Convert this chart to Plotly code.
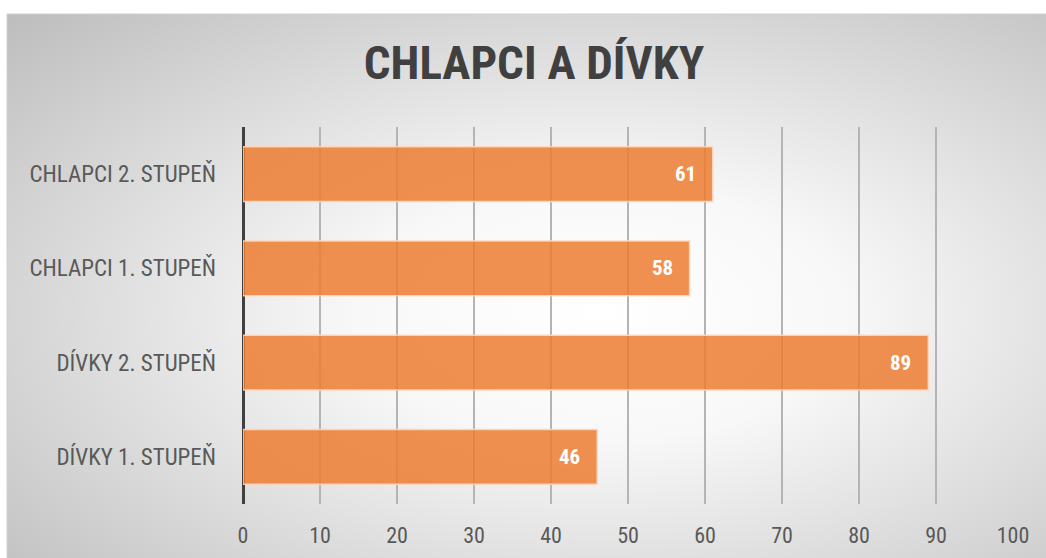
import plotly.graph_objects as go
import base64

categories = ["DÍVKY 1. STUPEŇ", "DÍVKY 2. STUPEŇ", "CHLAPCI 1. STUPEŇ", "CHLAPCI 2. STUPEŇ"]
values = [46, 89, 58, 61]
tick_vals = [0, 10, 20, 30, 40, 50, 60, 70, 80, 90, 100]
title_text = "CHLAPCI A DÍVKY"

W, H = 1046, 558
L, R, T, B = 243, 33, 127, 54
pw, ph = W - L - R, H - T - B

font_narrow = "Liberation Sans Narrow, Roboto Condensed, Arial Narrow, sans-serif"

svg = f'''<svg xmlns="http://www.w3.org/2000/svg" width="1039" height="544" viewBox="0 0 1039 544" preserveAspectRatio="none">
<defs><radialGradient id="g" cx="0.57" cy="0.55" r="0.78" gradientUnits="objectBoundingBox">
<stop offset="0" stop-color="#ffffff"/><stop offset="0.3" stop-color="#f8f8f8"/><stop offset="1" stop-color="#bebebe"/></radialGradient></defs>
<rect x="0" y="0" width="1039" height="544" fill="url(#g)"/></svg>'''
src = "data:image/svg+xml;base64," + base64.b64encode(svg.encode()).decode()

fig = go.Figure()
fig.add_trace(go.Bar(
    y=categories, x=values, orientation="h",
    marker=dict(color="rgba(237,125,49,0.85)", line=dict(color="rgba(252,215,190,0.9)", width=1.5)),
    width=0.58,
    hoverinfo="skip",
))

for c, v in zip(categories, values):
    fig.add_annotation(x=v, y=c, xref="x", yref="y", text=f"<b>{v}</b>", showarrow=False,
                       xanchor="right", xshift=-15,
                       font=dict(color="white", size=21, family=font_narrow))

x0p = (7 - L) / pw
x1p = (W - L) / pw
y1p = (H - B - 14) / ph
y0p = -B / ph

fig.add_layout_image(dict(source=src, xref="paper", yref="paper", x=x0p, y=y1p,
                          sizex=x1p - x0p, sizey=y1p - y0p, sizing="stretch",
                          xanchor="left", yanchor="top", layer="below"))
fig.add_shape(type="rect", xref="paper", yref="paper", x0=x0p, x1=x1p + 0.01, y0=y0p - 0.01, y1=y1p,
              line=dict(color="#d0d0d0", width=1), fillcolor="rgba(0,0,0,0)", layer="below")

fig.update_layout(
    width=W, height=H,
    margin=dict(l=L, r=R, t=T, b=B, autoexpand=False),
    paper_bgcolor="white", plot_bgcolor="rgba(0,0,0,0)",
    showlegend=False,
    title=dict(text=f"<b>{title_text}</b>", x=(534 - L) / pw, xref="paper",
               y=1 - 63 / H, yanchor="middle", xanchor="center",
               font=dict(family=font_narrow, size=47, color="#404040")),
    xaxis=dict(range=[0, 100], tickvals=tick_vals, showgrid=True, gridcolor="#b4b4b4", gridwidth=2,
               zeroline=True, zerolinecolor="#404040", zerolinewidth=3,
               showline=False, ticks="", tickfont=dict(family=font_narrow, size=22, color="#595959"),
               ticklabelstandoff=16, fixedrange=True),
    yaxis=dict(categoryorder="array", categoryarray=categories, showgrid=False, zeroline=False,
               showline=False, ticks="", ticklabelstandoff=26,
               tickfont=dict(family=font_narrow, size=23, color="#595959"), fixedrange=True),
)

fig.write_html("out.html", config={"displayModeBar": False},
               post_script="document.body.style.margin='0';document.body.style.overflow='hidden';")
